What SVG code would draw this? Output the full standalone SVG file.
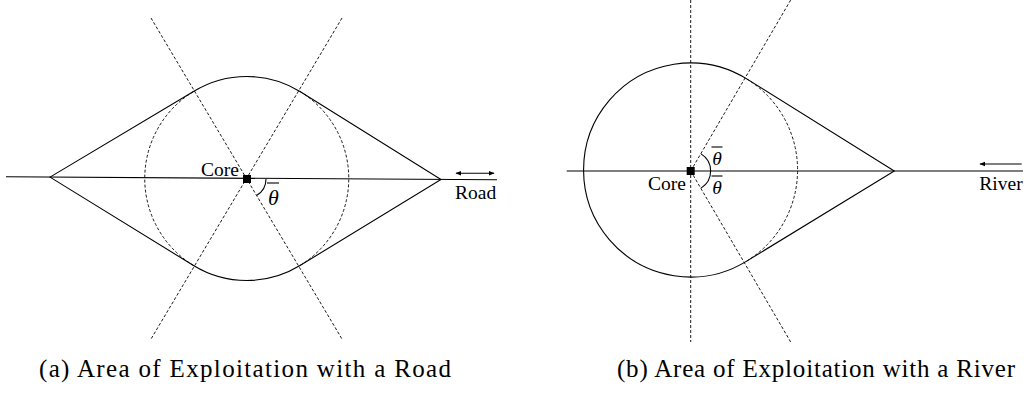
<svg xmlns="http://www.w3.org/2000/svg" width="1027" height="395" viewBox="0 0 1027 395">
<style>
.s{fill:none;stroke:#000;stroke-width:1.1}
.d{fill:none;stroke:#000;stroke-width:0.9;stroke-dasharray:3 2}
.t{font-family:"Liberation Serif","Times New Roman",serif;font-size:19.5px;fill:#000}
.m{font-family:"Liberation Serif","Times New Roman",serif;font-style:italic;fill:#000;text-anchor:middle}
.c{font-family:"Liberation Serif","Times New Roman",serif;font-size:25px;fill:#000}
.core{fill:#000}
</style>
<defs>
<marker id="ah" viewBox="0 0 10 10" refX="9" refY="5" markerWidth="6" markerHeight="6" orient="auto-start-reverse" markerUnits="userSpaceOnUse">
<path d="M0,1 L10,5 L0,9 Z" fill="#000"/>
</marker>
</defs>

<!-- Panel (a) -->
<g id="panel-a">
  <g id="a-guides">
    <line class="d" x1="151" y1="18" x2="342" y2="339"/>
    <line class="d" x1="342" y1="18" x2="151" y2="339"/>
    <path class="d" d="M193.5,265.5 A102,102 0 0 1 193.5,91.5"/>
    <path class="d" d="M300,91.5 A102,102 0 0 1 300,265.5"/>
  </g>
  <g id="a-road">
    <line class="s" x1="6" y1="176.8" x2="497" y2="179.8"/>
  </g>
  <g id="a-area">
    <path class="s" d="M50,177.1 L193.5,91.5 A102,102 0 0 1 300,91.5 L441,179.5 L300,265.5 A102,102 0 0 1 193.5,265.5 Z"/>
  </g>
  <g id="a-core">
    <rect class="core" x="243" y="175" width="8" height="8"/>
    <text class="t" x="201" y="176">Core</text>
  </g>
  <g id="a-angle">
    <path class="s" d="M266,179 A19,19 0 0 1 256.8,195.3"/>
    <line class="s" x1="267" y1="183" x2="279" y2="183"/>
    <text class="m" x="273.5" y="204.5" font-size="22">θ</text>
  </g>
  <g id="a-label">
    <line class="s" x1="456" y1="173.3" x2="494" y2="173.3" marker-start="url(#ah)" marker-end="url(#ah)"/>
    <text class="t" x="455" y="199">Road</text>
  </g>
  <text class="c" x="39" y="377" textLength="412" lengthAdjust="spacing">(a) Area of Exploitation with a Road</text>
</g>

<!-- Panel (b) -->
<g id="panel-b">
  <g id="b-guides">
    <line class="d" x1="690.7" y1="0" x2="690.7" y2="342"/>
    <line class="d" x1="690.7" y1="171" x2="790.7" y2="0"/>
    <line class="d" x1="690.7" y1="171" x2="790.7" y2="342"/>
    <path class="d" d="M746.7,78.9 A107,107 0 0 1 746.7,261.1"/>
  </g>
  <g id="b-river">
    <line class="s" x1="566.7" y1="171" x2="1023" y2="171"/>
  </g>
  <g id="b-area">
    <path class="s" d="M746.7,78.9 A107,107 0 1 0 746.7,261.1 L894.3,171 Z"/>
  </g>
  <g id="b-core">
    <rect class="core" x="686.7" y="167" width="8" height="8"/>
    <text class="t" x="648" y="189.5">Core</text>
  </g>
  <g id="b-angle">
    <path class="s" d="M701,153.9 A20,20 0 0 1 701,188.1"/>
    <line class="s" x1="711.5" y1="147" x2="722.5" y2="147"/>
    <text class="m" x="717" y="164.5" font-size="19.5">θ</text>
    <line class="s" x1="711.5" y1="176" x2="722.5" y2="176"/>
    <text class="m" x="717" y="193.5" font-size="19.5">θ</text>
  </g>
  <g id="b-label">
    <line class="s" x1="1021.7" y1="164" x2="980" y2="164" marker-end="url(#ah)"/>
    <text class="t" x="979.3" y="189.5">River</text>
  </g>
  <text class="c" x="617" y="377" textLength="398" lengthAdjust="spacing">(b) Area of Exploitation with a River</text>
</g>
</svg>
